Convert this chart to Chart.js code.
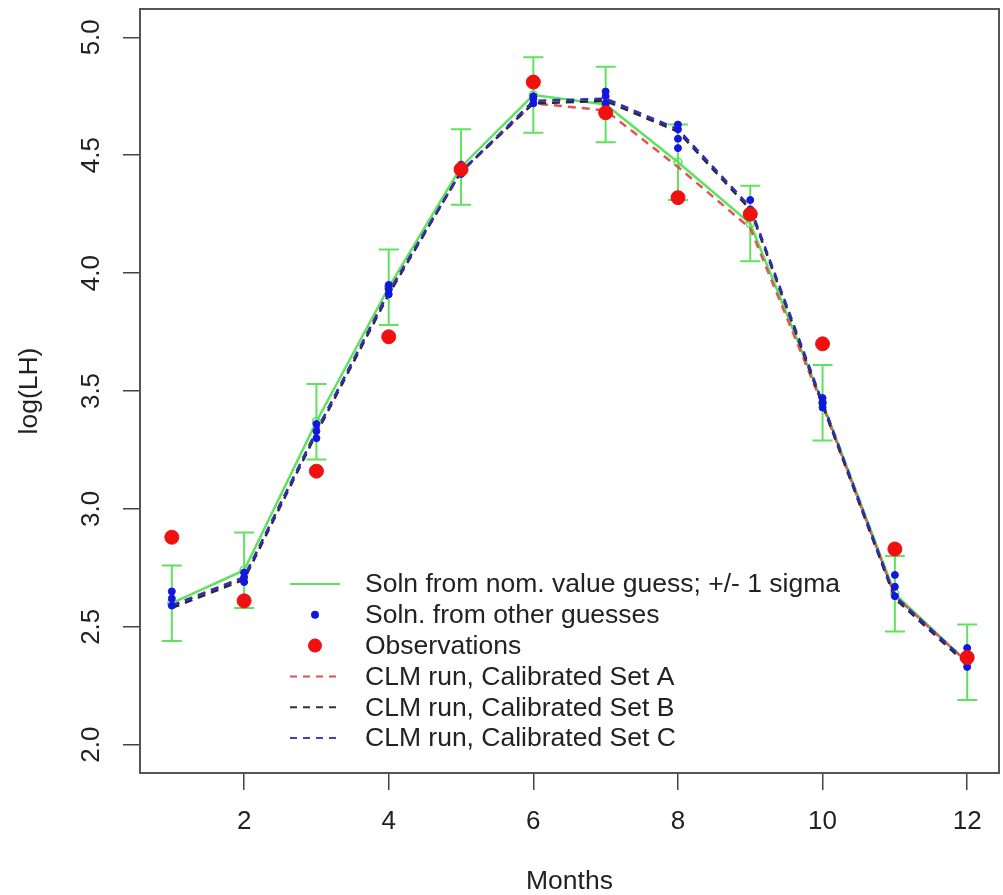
<!DOCTYPE html>
<html>
<head>
<meta charset="utf-8">
<script src="https://cdn.jsdelivr.net/npm/chart.js@4.4.1/dist/chart.umd.min.js"></script>
<style>
  body { margin: 0; background: #fff; }
  #wrap { width: 1003px; height: 895px; }
</style>
</head>
<body>
<div id="wrap"><canvas id="lhChart" width="1003" height="895"></canvas></div>
<script>
// monthly log(LH) values
const months = [1, 2, 3, 4, 5, 6, 7, 8, 9, 10, 11, 12];
const observations = [2.88, 2.61, 3.16, 3.73, 4.44, 4.81, 4.68, 4.32, 4.25, 3.70, 2.83, 2.37];
const nominalSoln = [2.60, 2.74, 3.37, 3.94, 4.45, 4.755, 4.715, 4.47, 4.21, 3.45, 2.64, 2.35];
const sigma = [0.16, 0.16, 0.16, 0.16, 0.16, 0.16, 0.16, 0.16, 0.16, 0.16, 0.16, 0.16];
const setA = [2.59, 2.71, 3.33, 3.92, 4.43, 4.72, 4.69, 4.45, 4.19, 3.44, 2.63, 2.35];
const setB = [2.58, 2.70, 3.32, 3.91, 4.43, 4.72, 4.73, 4.60, 4.27, 3.44, 2.62, 2.34];
const setC = [2.59, 2.71, 3.33, 3.92, 4.43, 4.73, 4.74, 4.61, 4.28, 3.45, 2.63, 2.35];
// other guesses: several solutions per month
const otherGuesses = [
  [2.59, 2.62, 2.65], [2.69, 2.71, 2.73], [3.30, 3.33, 3.36], [3.91, 3.93, 3.95],
  [4.42, 4.44, 4.46], [4.72, 4.74, 4.75], [4.72, 4.75, 4.77], [4.53, 4.57, 4.61, 4.63],
  [4.24, 4.27, 4.31], [3.43, 3.45, 3.47], [2.63, 2.67, 2.72], [2.33, 2.37, 2.41]
];
const xTicks = [2, 4, 6, 8, 10, 12];
const yTicks = [2.0, 2.5, 3.0, 3.5, 4.0, 4.5, 5.0];

const FONT = '"Liberation Sans", Arial, Helvetica, sans-serif';
const GREEN = '#5ee35e';

const pts = arr => months.map((m, i) => ({ x: m, y: arr[i] }));
const guessPts = [];
otherGuesses.forEach((vals, i) => vals.forEach(v => guessPts.push({ x: months[i], y: v })));

// error bars around the nominal solution, drawn via the chart scales
const errorBars = {
  id: 'errorBars',
  beforeDatasetsDraw(chart) {
    const { ctx, scales: { x, y } } = chart;
    ctx.save();
    ctx.strokeStyle = GREEN;
    ctx.lineWidth = 2;
    months.forEach((m, i) => {
      const px = x.getPixelForValue(m);
      const top = y.getPixelForValue(nominalSoln[i] + sigma[i]);
      const bot = y.getPixelForValue(nominalSoln[i] - sigma[i]);
      ctx.beginPath();
      ctx.moveTo(px, top); ctx.lineTo(px, bot);
      ctx.moveTo(px - 10, top); ctx.lineTo(px + 10, top);
      ctx.moveTo(px - 10, bot); ctx.lineTo(px + 10, bot);
      ctx.stroke();
    });
    ctx.restore();
  }
};

// box around the plot region (R style)
const plotBox = {
  id: 'plotBox',
  afterDraw(chart) {
    const { ctx, chartArea: a } = chart;
    ctx.save();
    ctx.strokeStyle = '#555';
    ctx.lineWidth = 2;
    ctx.strokeRect(a.left, a.top, a.right - a.left, a.bottom - a.top);
    ctx.restore();
  }
};

const legendItems = [
  { text: 'Soln from nom. value guess; +/- 1 sigma', type: 'line', color: GREEN, dash: [] },
  { text: 'Soln. from other guesses', type: 'dot', color: '#1515e0', r: 4 },
  { text: 'Observations', type: 'dot', color: '#f01010', r: 7 },
  { text: 'CLM run, Calibrated Set A', type: 'line', color: '#e05050', dash: [7, 6] },
  { text: 'CLM run, Calibrated Set B', type: 'line', color: '#333333', dash: [7, 6] },
  { text: 'CLM run, Calibrated Set C', type: 'line', color: '#4040d0', dash: [7, 6] }
];

const insetLegend = {
  id: 'insetLegend',
  afterDraw(chart) {
    const { ctx, chartArea: a } = chart;
    const x0 = a.left + 150, y0 = a.top + 575, step = 30.8;
    ctx.save();
    ctx.font = '26.5px ' + FONT;
    ctx.textBaseline = 'middle';
    legendItems.forEach((it, i) => {
      const yy = y0 + i * step;
      if (it.type === 'line') {
        ctx.strokeStyle = it.color;
        ctx.lineWidth = 2;
        ctx.setLineDash(it.dash);
        ctx.beginPath();
        ctx.moveTo(x0, yy); ctx.lineTo(x0 + 50, yy);
        ctx.stroke();
        ctx.setLineDash([]);
      } else {
        ctx.fillStyle = it.color;
        ctx.beginPath();
        ctx.arc(x0 + 25, yy, it.r, 0, Math.PI * 2);
        ctx.fill();
      }
      ctx.fillStyle = '#222';
      ctx.fillText(it.text, x0 + 75, yy + 1);
    });
    ctx.restore();
  }
};

const dashed = (label, data, color, order) => ({
  type: 'line', label, data: pts(data), borderColor: color, borderWidth: 2.5,
  borderDash: [8, 6], pointRadius: 0, fill: false, order
});

new Chart(document.getElementById('lhChart'), {
  type: 'line',
  data: {
    datasets: [
      {
        type: 'scatter', label: 'Observations', data: pts(observations),
        backgroundColor: '#f01010', borderColor: '#f01010', pointRadius: 7, order: 0
      },
      {
        type: 'scatter', label: 'Soln. from other guesses', data: guessPts,
        backgroundColor: '#1515e0', borderColor: '#1515e0', pointRadius: 3.5, order: 1
      },
      dashed('CLM run, Calibrated Set C', setC, '#2e2eb8', 2),
      dashed('CLM run, Calibrated Set B', setB, '#2a2a2a', 3),
      dashed('CLM run, Calibrated Set A', setA, '#e05555', 4),
      {
        type: 'line', label: 'Soln from nom. value guess', data: pts(nominalSoln),
        borderColor: GREEN, borderWidth: 2.5, pointRadius: 4, pointBorderWidth: 1.5,
        pointBackgroundColor: 'rgba(0,0,0,0)', pointBorderColor: GREEN, fill: false, order: 5
      }
    ]
  },
  options: {
    responsive: false,
    animation: false,
    layout: { autoPadding: false, padding: { top: 9, right: 4, left: 0, bottom: 0 } },
    plugins: { legend: { display: false }, tooltip: { enabled: false } },
    scales: {
      x: {
        type: 'linear', min: 0.56, max: 12.44,
        afterBuildTicks: s => { s.ticks = xTicks.map(v => ({ value: v })); },
        afterFit: s => { s.height = 122; s.paddingLeft = 0; s.paddingRight = 0; },
        grid: { drawOnChartArea: false, tickLength: 17, color: '#444', lineWidth: 1.5 },
        border: { display: false },
        ticks: { color: '#222', font: { family: FONT, size: 26 }, padding: 16, maxRotation: 0 },
        title: { display: true, text: 'Months', color: '#222', font: { family: FONT, size: 26.5, lineHeight: 1 }, padding: 0 }
      },
      y: {
        type: 'linear', min: 1.88, max: 5.12,
        afterBuildTicks: s => { s.ticks = yTicks.map(v => ({ value: v })); },
        afterFit: s => { s.width = 140; s.paddingTop = 0; s.paddingBottom = 0; },
        grid: { drawOnChartArea: false, tickLength: 17, color: '#444', lineWidth: 1.5 },
        border: { display: false },
        ticks: {
          color: '#222', font: { family: FONT, size: 26 }, padding: 13,
          minRotation: 90, maxRotation: 90, crossAlign: 'center',
          callback: v => v.toFixed(1)
        },
        title: { display: true, text: 'log(LH)', color: '#222', font: { family: FONT, size: 26.5, lineHeight: 1 }, padding: { top: 16, bottom: 0 } }
      }
    }
  },
  plugins: [errorBars, plotBox, insetLegend]
});
</script>
</body>
</html>
